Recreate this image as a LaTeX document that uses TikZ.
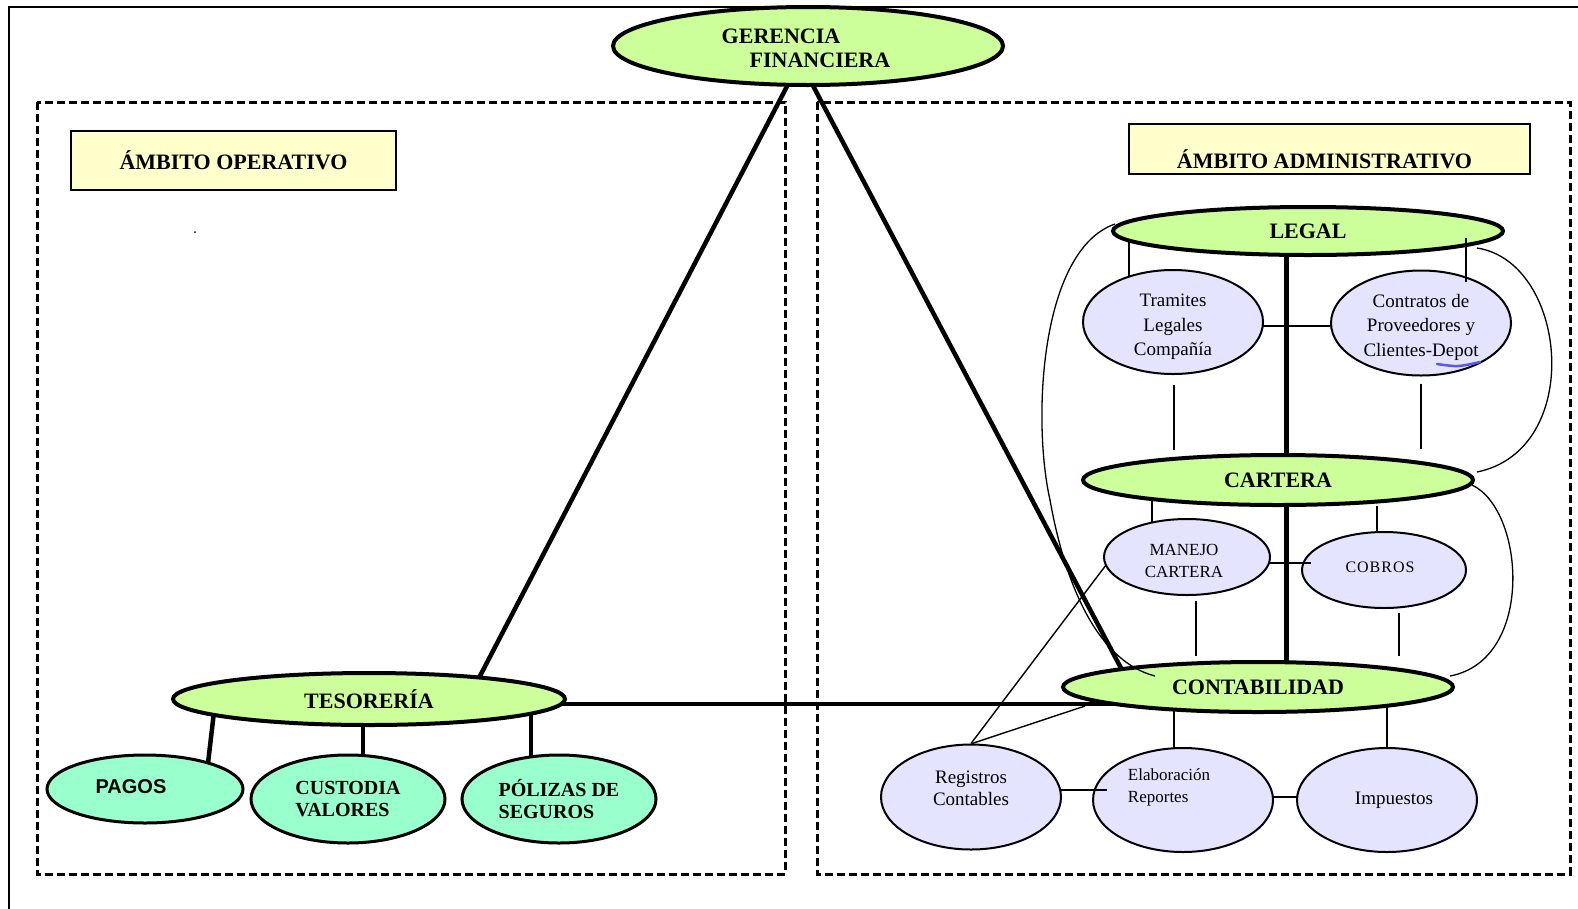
\documentclass[tikz,border=0pt]{standalone}
\usepackage{fontspec}
\setmainfont{Liberation Serif}
\newfontfamily\arialfam{Liberation Sans}
\usetikzlibrary{shapes.geometric,backgrounds,calc}

\definecolor{headgreen}{RGB}{204,255,153}
\definecolor{subgreen}{RGB}{153,255,204}
\definecolor{lilac}{RGB}{228,228,255}
\definecolor{paleyellow}{RGB}{255,255,204}
\definecolor{squiggle}{RGB}{90,90,230}

\begin{document}
\begin{tikzpicture}[x=1pt,y=-1pt,
  head/.style={ellipse, draw, line width=4pt, fill=headgreen, inner sep=0pt,
    font=\bfseries\fontsize{22}{24}\selectfont, align=center},
  sub/.style={ellipse, draw, line width=3pt, fill=subgreen, inner sep=0pt,
    font=\bfseries\fontsize{20}{22}\selectfont, align=left},
  task/.style={ellipse, draw, line width=2pt, fill=lilac, inner sep=0pt,
    font=\fontsize{19}{24.5}\selectfont, align=center},
  tasktext/.style={inner sep=0pt, font=\fontsize{19}{22}\selectfont, align=center},
  scopebox/.style={rectangle, draw, line width=1.3pt, fill=paleyellow, inner sep=0pt,
    font=\bfseries\fontsize{22}{24}\selectfont},
  zone/.style={line width=3pt, dash pattern=on 8pt off 4pt},
  boldlink/.style={line width=4.5pt},
  thinlink/.style={line width=1.4pt},
  arc/.style={line width=1.3pt}
]
\useasboundingbox (0,0) rectangle (1578,908);

% outer frame and the two dashed areas
\begin{pgfonlayer}{background}
  \fill[white] (0,0) rectangle (1578,908);
  \draw[line width=1.4pt] (9,930) -- (9,7) -- (1600,7);
  \draw[zone] (37,102) rectangle (785,874);
  \draw[zone] (817,102) rectangle (1570,874);
\end{pgfonlayer}

% headings of the two areas
\node[scopebox, minimum width=325pt, minimum height=59pt] (opbox) at (233.5,160.5) {ÁMBITO OPERATIVO};
\node[scopebox, minimum width=401pt, minimum height=50pt] (adbox) at (1329.5,149) {};
\node[inner sep=0pt, font=\bfseries\fontsize{22}{24}\selectfont] (adbox-t) at ($(adbox.center)+(-5,10)$) {ÁMBITO ADMINISTRATIVO};
\fill (195,232) circle[radius=1];

% top
\node[head, minimum width=390pt, minimum height=78pt] (ger) at (808,46) {};
\node[inner sep=0pt, align=left, font=\bfseries\fontsize{22}{24}\selectfont] (ger-t) at (806,48) {GERENCIA\\\hspace*{28pt}FINANCIERA};

% operational side
\node[head, minimum width=392pt, minimum height=52pt] (tes) at (369,699) {TESORERÍA};
\node[sub, minimum width=196pt, minimum height=68pt] (pagos) at (145,789) {};
\node[inner sep=0pt, font=\arialfam\bfseries\fontsize{20}{22}\selectfont] (pagos-t) at ($(pagos.center)+(-14,-2)$) {PAGOS};
\node[sub, minimum width=194pt, minimum height=88pt] (cust) at (348,799) {CUSTODIA\\VALORES};
\node[sub, minimum width=194pt, minimum height=88pt] (pol) at (559,799) {PÓLIZAS DE\\SEGUROS};

% administrative side
\node[head, minimum width=390pt, minimum height=48pt] (legal) at (1308,231) {LEGAL};
\node[task, minimum width=180pt, minimum height=104pt] (tram) at (1173,322) {};
\node[tasktext, font=\fontsize{19}{24.5}\selectfont] (tram-t) at ($(tram.center)+(0,5)$) {Tramites\\Legales\\Compañía};
\node[task, minimum width=180pt, minimum height=105pt] (contr) at (1421,323) {};
\node[tasktext, font=\fontsize{19}{24.5}\selectfont] (contr-t) at ($(contr.center)+(0,4)$) {Contratos de\\Proveedores y\\Clientes-Depot};

\node[head, minimum width=390pt, minimum height=50pt] (cart) at (1278,480) {CARTERA};
\node[task, minimum width=166pt, minimum height=76pt] (manejo) at (1187,557) {};
\node[tasktext, font=\fontsize{17}{22}\selectfont] (manejo-t) at ($(manejo.center)+(-3,4)$) {MANEJO\\CARTERA};
\node[task, minimum width=164pt, minimum height=76pt] (cobros) at (1384,570) {};
\node[tasktext, font=\fontsize{16}{20}\selectfont] (cobros-t) at ($(cobros.center)+(-4,-3)$) {C\kern1ptO\kern1ptB\kern1ptR\kern1ptO\kern1ptS};

\node[head, minimum width=390pt, minimum height=50pt] (contab) at (1258,687) {CONTABILIDAD};
\node[task, minimum width=180pt, minimum height=105pt] (reg) at (971,797) {};
\node[tasktext] (reg-t) at ($(reg.center)+(0,-9)$) {Registros\\Contables};
\node[task, minimum width=180pt, minimum height=104pt] (elab) at (1183,800) {};
\node[tasktext, align=left, font=\fontsize{17}{22}\selectfont] (elab-t) at ($(elab.center)+(-14,-13)$) {Elaboración\\Reportes};
\node[task, minimum width=180pt, minimum height=104pt] (imp) at (1387,800) {};
\node[tasktext] (imp-t) at ($(imp.center)+(7,0)$) {Impuestos};

% connectors that run behind the ellipses
\begin{pgfonlayer}{background}
  \draw[boldlink] (ger.center) -- ($(tes.center)+(99,0)$);
  \draw[boldlink] ($(ger.center)+(-16,0)$) -- ($(contab.center)+(-127,0)$);
  \draw[boldlink] ($(tes.center)+(0,5)$) -- ($(contab.center)+(0,17)$);
  \draw[boldlink] ($(tes.center)+(-153.5,0)$) -- ($(pagos.center)+(60,0)$);
  \draw[boldlink] ($(tes.center)+(-6,0)$) -- ($(cust.center)+(15,0)$);
  \draw[boldlink] ($(tes.center)+(162,0)$) -- ($(pol.center)+(-28,0)$);
  \draw[boldlink, line width=5pt] ($(legal.center)+(-22,0)$) -- ($(cart.center)+(8,0)$);
  \draw[boldlink, line width=5pt] ($(cart.center)+(8,0)$) -- ($(contab.center)+(28,0)$);
  \draw[thinlink] ($(tram.center)+(0,4)$) -- ($(contr.center)+(0,3)$);
  \draw[thinlink] ($(legal.center)+(-179,0)$) -- ($(tram.center)+(-44,0)$);
  \draw[thinlink] ($(cart.center)+(-126,0)$) -- ($(manejo.center)+(-35,0)$);
  \draw[thinlink] ($(contab.center)+(-84,0)$) -- ($(elab.center)+(-9,0)$);
  \draw[thinlink] ($(contab.center)+(129,0)$) -- (imp.center);
  \draw[thinlink] ($(elab.center)+(0,-3)$) -- ($(imp.center)+(0,-3)$);
\end{pgfonlayer}

% connectors drawn over the shapes
\draw[thinlink] ($(legal.center)+(158,7)$) -- ($(contr.center)+(45,-41)$);
\draw[thinlink] ($(tram.south)+(1,10)$) -- ($(tram.south |- cart.north)+(1,-3)$);
\draw[thinlink] ($(contr.south)+(0,7)$) -- ($(contr.south |- cart.north)+(0,-4)$);
\draw[thinlink] ($(cobros.north)+(-7,-25)$) -- ($(cobros.north)+(-7,0)$);
\draw[thinlink] ($(manejo.east)+(-2,6)$) -- ($(cobros.west)+(10,-7)$);
\draw[thinlink] ($(manejo.south)+(9,5)$) -- ($(manejo.south)+(9,60)$);
\draw[thinlink] ($(cobros.south)+(15,4)$) -- ($(cobros.south)+(15,47)$);
\draw[thinlink] ($(reg.center)+(89,-7)$) -- ($(elab.west)+(15,-10)$);
\draw[thinlink] ($(reg.north)+(1,0)$) -- ($(contab.center)+(-173,19)$);
\draw[thinlink] ($(reg.north)+(0,0)$) -- ($(manejo.west)+(3,8)$);

% loops linking the administrative units
\draw[arc] ($(legal.west)+(4,-7)$) .. controls (1040,250) and (1032,420) .. (1050,500)
  .. controls (1066,590) and (1100,662) .. ($(contab.center)+(-103,-11)$);
\draw[arc] ($(legal.east)+(-28,17)$) .. controls (1568,262) and (1585,450) .. ($(cart.east)+(2,-8)$);
\draw[arc] ($(cart.east)+(-3,5)$) .. controls (1525,510) and (1535,660) .. ($(contab.east)+(-5,-11)$);

% spelling mark under the last word
\draw[squiggle, line width=2.5pt, line cap=round] (1437,364) .. controls (1458,367) .. (1480,362);
\end{tikzpicture}
\end{document}
